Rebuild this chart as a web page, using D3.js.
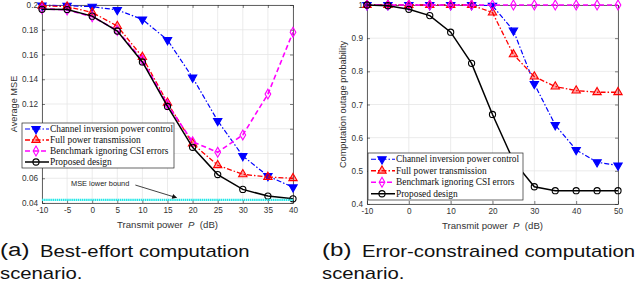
<!DOCTYPE html>
<html>
<head>
<meta charset="utf-8">
<script src="https://cdn.jsdelivr.net/npm/d3@7"></script>
<style>
  body { margin: 0; background: #fff; }
  svg text { white-space: pre; }
</style>
</head>
<body>
<script>
// (a) best-effort
const powerA = [-10, -5, 0, 5, 10, 15, 20, 25, 30, 35, 40];
const mseChannel = [0.1997, 0.1995, 0.1987, 0.196, 0.1884, 0.1717, 0.1414, 0.1064, 0.078, 0.0618, 0.0527];
const mseFull = [0.1993, 0.1987, 0.194, 0.183, 0.158, 0.121, 0.088, 0.0705, 0.0632, 0.061, 0.060];
const mseBench = [0.197, 0.196, 0.1905, 0.1795, 0.1555, 0.1195, 0.0895, 0.081, 0.095, 0.128, 0.178];
const mseProposed = [0.1965, 0.1963, 0.191, 0.179, 0.154, 0.118, 0.085, 0.063, 0.051, 0.0456, 0.0434];
const mseBound = 0.0425;
const yTicksA = [0.04, 0.06, 0.08, 0.1, 0.12, 0.14, 0.16, 0.18, 0.2];
const xTicksA = [-10, -5, 0, 5, 10, 15, 20, 25, 30, 35, 40];

// (b) error-constrained
const powerB = [-10, -5, 0, 5, 10, 15, 20, 25, 30, 35, 40, 45, 50];
const outChannel = [1, 1, 1, 1, 1, 1, 0.998, 0.923, 0.762, 0.638, 0.563, 0.526, 0.516];
const outFull = [1, 1, 1, 1, 1, 1, 0.977, 0.851, 0.784, 0.754, 0.742, 0.737, 0.737];
const outBench = [1, 1, 1, 1, 1, 1, 1, 1, 1, 1, 1, 1, 1];
const outProposed = [1, 0.998, 0.987, 0.968, 0.918, 0.824, 0.670, 0.53, 0.452, 0.440, 0.440, 0.440, 0.440];
const yTicksB = [0.4, 0.5, 0.6, 0.7, 0.8, 0.9, 1];
const xTicksB = [-10, 0, 10, 20, 30, 40, 50];

const names = ["Channel inversion power control", "Full power transmission",
  "Benchmark ignoring CSI errors", "Proposed design"];

// line styles, same order as names
const styles = [
  {color: "#0000ff", dash: "5,2,1.5,2", width: 1.2, marker: "down", fill: "#0000ff"},
  {color: "#ff0000", dash: "5,2,1.5,2", width: 1.3, marker: "up", fill: "rgba(255,0,0,0.35)"},
  {color: "#ff00ff", dash: "5,3", width: 1.6, marker: "diamond", fill: "none"},
  {color: "#000000", dash: null, width: 1.5, marker: "circle", fill: "none"}
];

const sans = "'Liberation Sans', Arial, sans-serif";
const serif = "'Liberation Serif', 'Times New Roman', serif";

const svg = d3.select("body").append("svg")
  .attr("width", 640)
  .attr("height", 287);

function markerPath(type) {
  if (type == "circle") return d3.symbol(d3.symbolCircle, 30)();
  if (type == "diamond") return d3.symbol(d3.symbolDiamond, 28)();
  return d3.symbol(d3.symbolTriangle, 30)();
}

function addMarker(g, type, st, x, y) {
  g.append("path")
    .attr("d", markerPath(type))
    .attr("transform", "translate(" + x + "," + y + ")" + (type == "down" ? " rotate(180)" : ""))
    .attr("fill", st.fill)
    .attr("stroke", st.color)
    .attr("stroke-width", 1.1);
}

function panel(opts) {
  var {xs, series, xDomain, yDomain, xTicks, yTicks, left, right, top, bottom, yTitle, yTitleX, legendBox} = opts;
  var x = d3.scaleLinear().domain(xDomain).range([left, right]);
  var y = d3.scaleLinear().domain(yDomain).range([bottom, top]);
  var g = svg.append("g");

  //grid
  g.append("g").selectAll("line").data(xTicks).enter().append("line")
    .attr("x1", d => x(d)).attr("x2", d => x(d))
    .attr("y1", top).attr("y2", bottom)
    .attr("stroke", "#e6e6e6").attr("stroke-width", 0.8);
  g.append("g").selectAll("line").data(yTicks).enter().append("line")
    .attr("y1", d => y(d)).attr("y2", d => y(d))
    .attr("x1", left).attr("x2", right)
    .attr("stroke", "#e6e6e6").attr("stroke-width", 0.8);

  var fmt = d => String(+d.toFixed(2));
  var ax = [
    [d3.axisBottom(x).tickValues(xTicks).tickFormat(fmt).tickSizeInner(-3).tickSizeOuter(0).tickPadding(4), 0, bottom],
    [d3.axisTop(x).tickValues(xTicks).tickFormat("").tickSizeInner(-3).tickSizeOuter(0), 0, top],
    [d3.axisLeft(y).tickValues(yTicks).tickFormat(fmt).tickSizeInner(-3).tickSizeOuter(0).tickPadding(4), left, 0],
    [d3.axisRight(y).tickValues(yTicks).tickFormat("").tickSizeInner(-3).tickSizeOuter(0), right, 0]
  ];
  ax.forEach(function(a) {
    var s = g.append("g").attr("transform", "translate(" + a[1] + "," + a[2] + ")").call(a[0]);
    s.select(".domain").attr("stroke", "#262626").attr("stroke-width", 0.7);
    s.selectAll(".tick line").attr("stroke", "#262626").attr("stroke-width", 0.6);
    s.selectAll("text").attr("font-family", sans).attr("font-size", 8.2).attr("fill", "#333");
  });

  //curves
  series.forEach(function(vals, i) {
    var st = styles[i];
    var pts = xs.map((p, j) => [x(p), y(vals[j])]);
    g.append("path")
      .attr("d", d3.line()(pts))
      .attr("fill", "none")
      .attr("stroke", st.color)
      .attr("stroke-width", st.width)
      .attr("stroke-dasharray", st.dash);
    var mg = g.append("g");
    pts.forEach(p => addMarker(mg, st.marker, st, p[0], p[1]));
  });

  //titles
  var xt = g.append("text")
    .attr("x", (left + right) / 2).attr("y", bottom + 25)
    .attr("text-anchor", "middle")
    .attr("font-family", sans).attr("font-size", 9.6).attr("fill", "#333");
  xt.append("tspan").text("Transmit power  ");
  xt.append("tspan").attr("font-style", "italic").text("P");
  xt.append("tspan").text("  (dB)");

  g.append("text")
    .attr("transform", "translate(" + yTitleX + "," + (top + bottom) / 2 + ") rotate(-90)")
    .attr("text-anchor", "middle")
    .attr("font-family", sans).attr("font-size", 9.2).attr("fill", "#333")
    .text(yTitle);

  //legend
  var [lx, ly, lw, lh] = legendBox;
  var lg = g.append("g");
  lg.append("rect")
    .attr("x", lx).attr("y", ly).attr("width", lw).attr("height", lh)
    .attr("fill", "#fff").attr("stroke", "#262626").attr("stroke-width", 0.7);
  var rowH = (lh - 1) / 4;
  names.forEach(function(n, i) {
    var st = styles[i];
    var cy = ly + rowH * (i + 0.5) + 0.5;
    lg.append("line")
      .attr("x1", lx + 3).attr("x2", lx + 27).attr("y1", cy).attr("y2", cy)
      .attr("stroke", st.color).attr("stroke-width", st.width)
      .attr("stroke-dasharray", st.dash);
    addMarker(lg, st.marker, st, lx + 14, cy);
    lg.append("text")
      .attr("x", lx + 28).attr("y", cy).attr("dy", "0.34em")
      .attr("font-family", serif).attr("font-size", 9.4).attr("fill", "#111")
      .text(n);
  });

  return {g, x, y};
}

var pa = panel({
  xs: powerA,
  series: [mseChannel, mseFull, mseBench, mseProposed],
  xDomain: [-10, 40], yDomain: [0.04, 0.2],
  xTicks: xTicksA, yTicks: yTicksA,
  left: 42, right: 293, top: 5, bottom: 203,
  yTitle: "Average MSE", yTitleX: 17,
  legendBox: [22, 123, 152, 45],
  boundLine: true
});

// MSE lower bound
pa.g.append("line")
  .attr("x1", pa.x(-10)).attr("x2", pa.x(40))
  .attr("y1", pa.y(mseBound)).attr("y2", pa.y(mseBound))
  .attr("stroke", "#22e8e8").attr("stroke-width", 2.2)
  .attr("stroke-dasharray", "1.5,0.6");
svg.append("defs").append("marker")
  .attr("id", "arr").attr("viewBox", "0 0 10 10")
  .attr("refX", 9).attr("refY", 5)
  .attr("markerWidth", 7).attr("markerHeight", 6)
  .attr("orient", "auto")
  .append("path").attr("d", "M0,0L10,5L0,10z").attr("fill", "#111");
pa.g.append("line")
  .attr("x1", pa.x(8.6)).attr("y1", pa.y(0.0545))
  .attr("x2", pa.x(16.8)).attr("y2", pa.y(0.0443))
  .attr("stroke", "#111").attr("stroke-width", 0.8)
  .attr("marker-end", "url(#arr)");
pa.g.append("text")
  .attr("x", 71).attr("y", pa.y(0.0555)).attr("dy", "0.34em")
  .attr("font-family", sans).attr("font-size", 7.4).attr("fill", "#222")
  .text("MSE lower bound");

panel({
  xs: powerB,
  series: [outChannel, outFull, outBench, outProposed],
  xDomain: [-10, 50], yDomain: [0.4, 1],
  xTicks: xTicksB, yTicks: yTicksB,
  left: 367, right: 618, top: 5, bottom: 204,
  yTitle: "Computation outage probability", yTitleX: 346,
  legendBox: [368, 153, 155, 47]
});

// captions (figure is stretched horizontally)
function caption(x0, label, line1) {
  var c = svg.append("g").attr("transform", "translate(" + x0 + ",0) scale(1.27,1)");
  c.append("text").attr("x", 0).attr("y", 256)
    .attr("font-family", sans).attr("font-size", 19).attr("fill", "#111").text(label);
  c.append("text").attr("x", 40 / 1.27).attr("y", 257)
    .attr("font-family", sans).attr("font-size", 16).attr("fill", "#111").text(line1);
  c.append("text").attr("x", 0).attr("y", 279)
    .attr("font-family", sans).attr("font-size", 16).attr("fill", "#111").text("scenario.");
}
caption(0, "(a)", "Best-effort computation");
caption(322, "(b)", "Error-constrained computation");
</script>
</body>
</html>
